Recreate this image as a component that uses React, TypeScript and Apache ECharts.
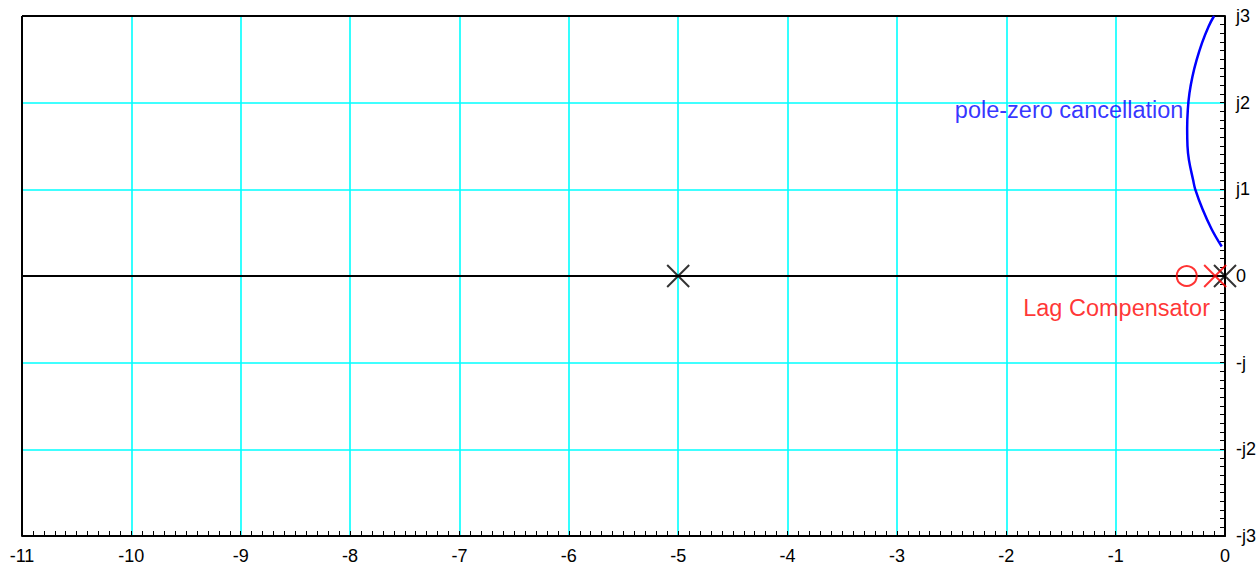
import React, { useEffect, useRef } from "react";
import * as echarts from "echarts";

// Root-locus branch (real part, imaginary part) near the origin
const locusRe = [-0.1, -0.15, -0.21, -0.26, -0.298, -0.325, -0.34, -0.346, -0.343, -0.33, -0.292, -0.272, -0.205, -0.122, -0.03];
const locusIm = [3.0, 2.88, 2.69, 2.49, 2.3, 2.11, 1.92, 1.7, 1.5, 1.34, 1.11, 1.0, 0.77, 0.54, 0.34];

// Open-loop poles of the plant
const plantPoles: [number, number][] = [[-5, 0], [0, 0]];
// Lag compensator pole and zero
const lagPoles: [number, number][] = [[-0.09, 0]];
const lagZeros: [number, number][] = [[-0.35, 0]];

// Plane extent and axis tick labels
const reRange = [-11, 0];
const imRange = [-3, 3];
const imagTickValues = [-3, -2, -1, 0, 1, 2, 3];
const imagTickLabels = ["-j3", "-j2", "-j", "0", "j1", "j2", "j3"];

const FONT = "'Liberation Sans', Arial, Helvetica, sans-serif";
const CROSS = "path://M0,0L20,20M20,0L0,20";

export default function App() {
  const ref = useRef<HTMLDivElement>(null);

  useEffect(() => {
    if (!ref.current) return;
    const chart = echarts.init(ref.current, undefined, { renderer: "svg" });
    const locus = locusRe.map((r, i) => [r, locusIm[i]]);
    const [reMin, reMax] = reRange;
    const [imMin, imMax] = imRange;

    const frameLine = (data: number[][]) => ({
      type: "line",
      data,
      symbol: "none",
      clip: false,
      silent: true,
      lineStyle: { color: "#000", width: 2 },
      z: 3,
    });

    const gridLine = { show: true, showMinLine: false, showMaxLine: false, lineStyle: { color: "#00ffff", width: 1.6, opacity: 1 } };

    chart.setOption({
      animation: false,
      backgroundColor: "#ffffff",
      textStyle: { fontFamily: FONT },
      grid: { left: 22, right: 35, top: 16, bottom: 28 },
      xAxis: {
        type: "value",
        min: reMin,
        max: reMax,
        interval: 1,
        axisLine: { show: true, onZero: false, lineStyle: { color: "#000", width: 2 } },
        axisTick: { show: true, inside: true, length: 5, lineStyle: { color: "#000", width: 1 } },
        minorTick: { show: true, splitNumber: 10, length: 5, lineStyle: { color: "#000", width: 1 } },
        splitLine: gridLine,
        axisLabel: { color: "#000", fontSize: 18, fontFamily: FONT, margin: 11 },
      },
      yAxis: {
        type: "value",
        position: "right",
        min: imMin,
        max: imMax,
        interval: 1,
        axisLine: { show: true, onZero: false, lineStyle: { color: "#000", width: 2 } },
        axisTick: { show: true, inside: true, length: 5, lineStyle: { color: "#000", width: 1 } },
        minorTick: { show: true, splitNumber: 10, length: 5, lineStyle: { color: "#000", width: 1 } },
        splitLine: gridLine,
        axisLabel: {
          color: "#000",
          fontSize: 18,
          fontFamily: FONT,
          margin: 11,
          formatter: (v: number) => imagTickLabels[imagTickValues.indexOf(Math.round(v))] ?? "",
        },
      },
      series: [
        // top and left edges of the plot frame
        frameLine([[reMin, imMax], [reMax, imMax]]),
        frameLine([[reMin, imMin], [reMin, imMax]]),
        // real axis
        frameLine([[reMin, 0], [reMax, 0]]),
        {
          type: "line",
          data: locus,
          smooth: 0.4,
          symbol: "none",
          lineStyle: { color: "#0000ff", width: 2.5 },
          z: 4,
        },
        {
          type: "scatter",
          data: plantPoles,
          symbol: CROSS,
          symbolSize: 22,
          clip: false,
          itemStyle: { color: "transparent", borderColor: "#000", borderWidth: 2 },
          z: 5,
        },
        {
          type: "scatter",
          data: lagPoles,
          symbol: CROSS,
          symbolSize: 22,
          clip: false,
          itemStyle: { color: "transparent", borderColor: "#ff0000", borderWidth: 2 },
          z: 6,
        },
        {
          type: "scatter",
          data: lagZeros,
          symbol: "circle",
          symbolSize: 20,
          clip: false,
          itemStyle: { color: "transparent", borderColor: "#ff0000", borderWidth: 2 },
          z: 6,
        },
        {
          type: "scatter",
          data: [[-0.38, 1.92]],
          symbolSize: 0,
          silent: true,
          label: {
            show: true,
            position: "inside",
            align: "right",
            verticalAlign: "middle",
            formatter: "pole-zero cancellation",
            color: "#0000ff",
            fontSize: 23.5,
            fontFamily: FONT,
          },
          z: 7,
        },
        {
          type: "scatter",
          data: [[-0.137, -0.37]],
          symbolSize: 0,
          silent: true,
          label: {
            show: true,
            position: "inside",
            align: "right",
            verticalAlign: "middle",
            formatter: "Lag Compensator",
            color: "#ff0000",
            fontSize: 23.5,
            fontFamily: FONT,
          },
          z: 7,
        },
      ],
    });

    return () => chart.dispose();
  }, []);

  return (
    <div
      ref={ref}
      style={{ position: "fixed", left: 0, top: 0, width: 1260, height: 565, background: "#fff" }}
    />
  );
}
